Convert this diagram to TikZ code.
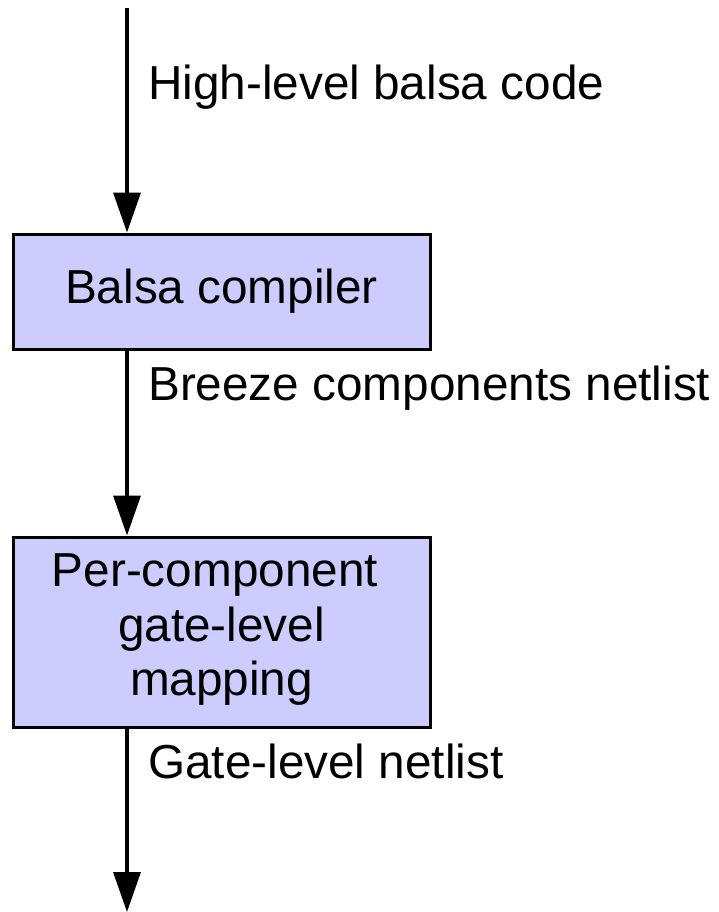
\documentclass[tikz,border=0pt]{standalone}
\usepackage{fontspec}
\setmainfont{Liberation Sans}
\usetikzlibrary{arrows.meta}
\begin{document}
\begin{tikzpicture}[x=1pt,y=-1pt,
  stagebox/.style={draw=black, line width=3pt, fill=stagefill, inner sep=0pt,
    minimum width=417pt, font=\fontsize{47.7}{54.5}\selectfont, align=center},
  flowlabel/.style={anchor=base west, inner sep=0pt, font=\fontsize{47.7}{54.5}\selectfont},
  arr/.style={draw=black, line width=3.5pt, -{Triangle[length=40pt,width=27pt]}}]
\definecolor{stagefill}{HTML}{CCCCFF}
\useasboundingbox (0,0) rectangle (718,912);
\fill[white] (0,0) rectangle (718,912);
\coordinate (src) at (127,8);
\coordinate (sink) at (127,912);
\node[stagebox, minimum height=115pt] (b1) at (221.5,291.5) {Balsa compiler};
\node[stagebox, minimum height=190pt] (b2) at (221.5,632)
  {\rule{0pt}{0pt}Per-component\hspace*{0.278em}\\gate-level\hspace*{0.278em}\\mapping\rule[-0.3em]{0pt}{0pt}};
\draw[arr] (src) -- (src |- b1.north);
\draw[arr] (b1.south -| src) -- (b2.north -| src);
\draw[arr] (b2.south -| src) -- (sink);
\node[flowlabel] (l1) at (148,100) {High-level balsa code};
\node[flowlabel] (l2) at (148,400) {Breeze components netlist};
\node[flowlabel] (l3) at (148,778) {Gate-level netlist};
\end{tikzpicture}
\end{document}
